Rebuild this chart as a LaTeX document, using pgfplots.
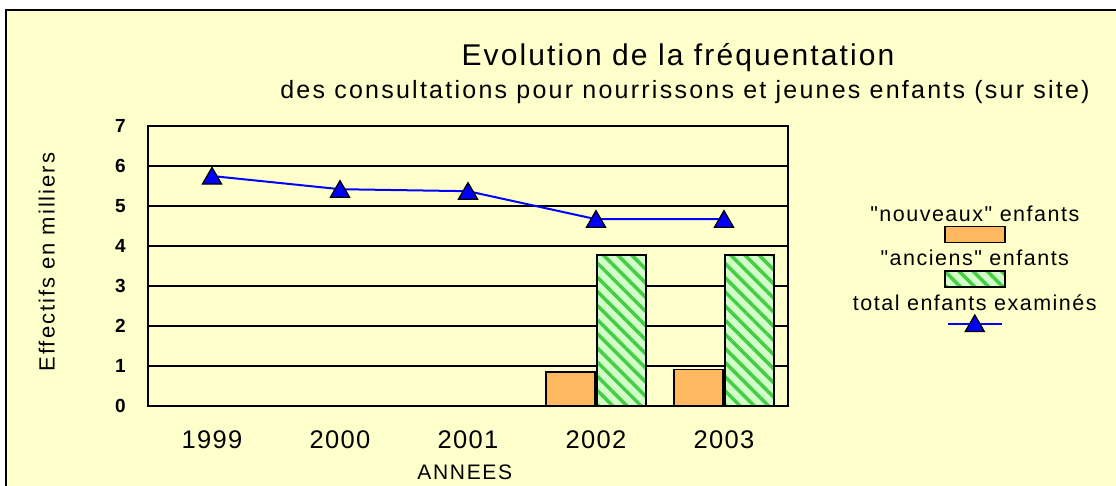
\documentclass[border=0pt]{standalone}
\usepackage{pgfplots}
\pgfplotsset{compat=1.18}
\usepackage{fontspec}
\setmainfont{Liberation Sans}
\newfontfamily\plainfam{Liberation Sans}
\usetikzlibrary{patterns.meta}
\definecolor{bg}{RGB}{255,255,204}
\definecolor{orangebar}{RGB}{255,183,96}
\definecolor{ltgreen}{RGB}{210,255,200}
\definecolor{stripe}{RGB}{70,205,70}
\newcommand\legfont{\plainfam\fontsize{21.5}{24}\selectfont\addfontfeatures{LetterSpace=7}}
\pgfplotsset{
  legA/.style={legend image code/.code={\node[font=\legfont, text=black, inner sep=0pt, anchor=base] at (0pt,13pt) {"nouveaux" enfants};
    \draw[##1] (-30pt,-8pt) rectangle (30pt,8pt);}},
  legB/.style={legend image code/.code={\node[font=\legfont, text=black, inner sep=0pt, anchor=base] at (0pt,13pt) {"anciens" enfants};
    \draw[##1] (-30pt,-8pt) rectangle (30pt,8pt);}},
  legC/.style={legend image code/.code={\node[font=\legfont, text=black, inner sep=0pt, anchor=base] at (0pt,13pt) {total enfants examinés};
    \draw[##1, mark repeat=2, mark phase=2] plot coordinates {(-27pt,0pt) (0pt,0pt) (27pt,0pt)};}},
}

\pgfplotstableread{
x nouveaux anciens total
0 0    0    5.75
1 0    0    5.42
2 0    0    5.37
3 0.85 3.77 4.67
4 0.91 3.77 4.67
}\datatable

\begin{document}
\begin{tikzpicture}[x=1pt,y=1pt]
\useasboundingbox (0,0) rectangle (1116,-486);
\fill[bg] (6,-10) rectangle (1125,-495);
\draw[black, line width=2pt] (6,-495) -- (6,-10) -- (1125,-10);
\node[font=\fontsize{30}{34}\selectfont\addfontfeatures{LetterSpace=7}, anchor=base, inner sep=0pt] at (678,-66) {Evolution de la fréquentation};
\node[font=\fontsize{25}{28}\selectfont\addfontfeatures{LetterSpace=9}, anchor=base, inner sep=0pt] at (685,-99) {des consultations pour nourrissons et jeunes enfants (sur site)};
\begin{axis}[
  at={(148pt,-406pt)}, anchor=south west,
  width=640pt, height=280pt, scale only axis,
  xmin=-0.5, xmax=4.5, ymin=0, ymax=7,
  xtick={0,...,4}, xticklabels={1999,2000,2001,2002,2003},
  ytick={0,...,7},
  major tick length=0pt,
  ymajorgrids, grid style={black, line width=1.5pt},
  axis line style={black, line width=2pt},
  axis background/.style={fill=bg},
  /pgf/number format/assume math mode=true,
  yticklabel style={font=\bfseries\fontsize{19}{19}\selectfont, anchor=east, inner sep=0pt, xshift=-22pt},
  xticklabel style={font=\fontsize{25.5}{26}\selectfont\addfontfeatures{LetterSpace=5}, anchor=north, inner sep=0pt, yshift=-24pt},
  xlabel={ANNEES},
  xlabel style={font=\fontsize{21}{21}\selectfont\addfontfeatures{LetterSpace=8}, at={(axis description cs:0.495,-0.236)}, anchor=center},
  ylabel={Effectifs en milliers},
  ylabel style={font=\fontsize{22}{22}\selectfont\addfontfeatures{LetterSpace=9}, at={(axis description cs:-0.158,0.514)}, anchor=center},
  legend style={at={(axis description cs:1.295,0.49)}, anchor=center, draw=none, fill=none, row sep=7pt},
]
\addplot[ybar, bar width=49pt, bar shift=-25.5pt, fill=orangebar, draw=black, line width=1.5pt, legA]
  table[x=x, y=nouveaux] {\datatable};
\addlegendentry{}
\addplot[ybar, bar width=49pt, bar shift=25.5pt, draw=black, line width=1.5pt,
  preaction={fill=ltgreen},
  preaction={pattern={Lines[angle=-45,distance=10pt,line width=3.5pt]}, pattern color=stripe}, legB]
  table[x=x, y=anciens] {\datatable};
\addlegendentry{}
\addplot[sharp plot, blue, line width=2pt, mark=triangle*, mark size=11pt,
  mark options={fill=blue, draw=black, line width=1.3pt, solid, yshift=-2.5pt}, legC]
  table[x=x, y=total] {\datatable};
\addlegendentry{}
\end{axis}
\end{tikzpicture}
\end{document}
